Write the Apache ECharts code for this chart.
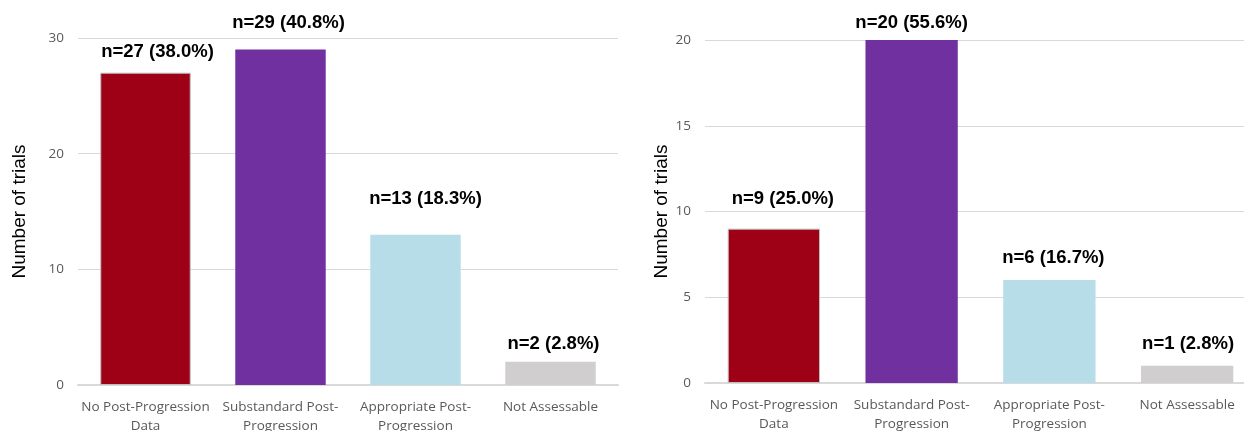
<!DOCTYPE html>
<html lang="en">
<head>
	<meta charset="UTF-8">
	<title>Trials by post-progression</title>
	<script src="https://cdn.jsdelivr.net/npm/echarts@6/dist/echarts.min.js"></script>
	<style>
		html, body { margin: 0; padding: 0; background: #fff; }
		#main { width: 1244px; height: 431px; }
	</style>
</head>
<body>
	<div id="main"></div>
	<script>
		// categories shared by both panels
		var categories = ['No Post-Progression\nData', 'Substandard Post-\nProgression', 'Appropriate Post-\nProgression', 'Not Assessable'];
		var barColors = ['#9E0016', '#7030A0', '#B7DDE8', '#D0CECE'];

		// left panel
		var leftCounts = [27, 29, 13, 2];
		var leftPct = ['38.0', '40.8', '18.3', '2.8'];
		// right panel
		var rightCounts = [9, 20, 6, 1];
		var rightPct = ['25.0', '55.6', '16.7', '2.8'];

		// label placement tweaks (gap above bar, sideways nudge) as in the original
		var leftLift = [11, 17, 26, 8];
		var leftNudge = [12, 8, 10, 3];
		var rightLift = [20, 8, 13, 12];
		var rightNudge = [9, 0, 4, 1];

		function makeData(counts, pct, lift, nudge){
			var out = [];
			for(var i=0;i<counts.length;i++){
				out.push({
					value: counts[i],
					pct: pct[i],
					itemStyle: {
						color: barColors[i],
						borderColor: i == 0 ? '#BFBFBF' : barColors[i],
						borderWidth: i == 0 ? 1 : 0
					},
					label: { distance: lift[i], offset: [nudge[i], 0] }
				});
			}
			return out;
		}

		var axisText = { color: '#595959', fontSize: 13.5, fontFamily: 'Open Sans' };

		function xAx(idx){
			return {
				type: 'category',
				gridIndex: idx,
				data: categories,
				axisLine: { lineStyle: { color: '#D9D9D9', width: 2 } },
				axisTick: { show: false },
				axisLabel: Object.assign({ margin: 12, interval: 0, lineHeight: 19.5 }, axisText)
			};
		}
		function yAx(idx, max, step, gap){
			return {
				type: 'value',
				gridIndex: idx,
				min: 0,
				max: max,
				interval: step,
				name: 'Number of trials',
				nameLocation: 'middle',
				nameGap: gap,
				nameTextStyle: { color: '#000', fontSize: 19, fontFamily: 'Liberation Sans' },
				axisLine: { show: false },
				axisTick: { show: false },
				splitLine: { lineStyle: { color: '#D9D9D9', width: 1 } },
				axisLabel: Object.assign({ margin: 14 }, axisText)
			};
		}
		function barSeries(idx, data){
			return {
				type: 'bar',
				xAxisIndex: idx,
				yAxisIndex: idx,
				data: data,
				barCategoryGap: '33%',
				label: {
					show: true,
					position: 'top',
					color: '#000',
					fontSize: 18.5,
					fontWeight: 'bold',
					fontFamily: 'Liberation Sans',
					formatter: function(p){ return 'n=' + p.value + ' (' + p.data.pct + '%)'; }
				}
			};
		}

		var myChart = echarts.init(document.getElementById('main'));
		var option = {
			animation: false,
			grid: [
				{ left: 78, width: 540, top: 38, bottom: 46, outerBoundsMode: 'none' },
				{ left: 705, width: 551, top: 40, bottom: 48, outerBoundsMode: 'none' }
			],
			xAxis: [xAx(0), xAx(1)],
			yAxis: [yAx(0, 30, 10, 49), yAx(1, 20, 5, 26)],
			series: [
				barSeries(0, makeData(leftCounts, leftPct, leftLift, leftNudge)),
				barSeries(1, makeData(rightCounts, rightPct, rightLift, rightNudge))
			]
		};
		myChart.setOption(option);
	</script>
</body>
</html>
